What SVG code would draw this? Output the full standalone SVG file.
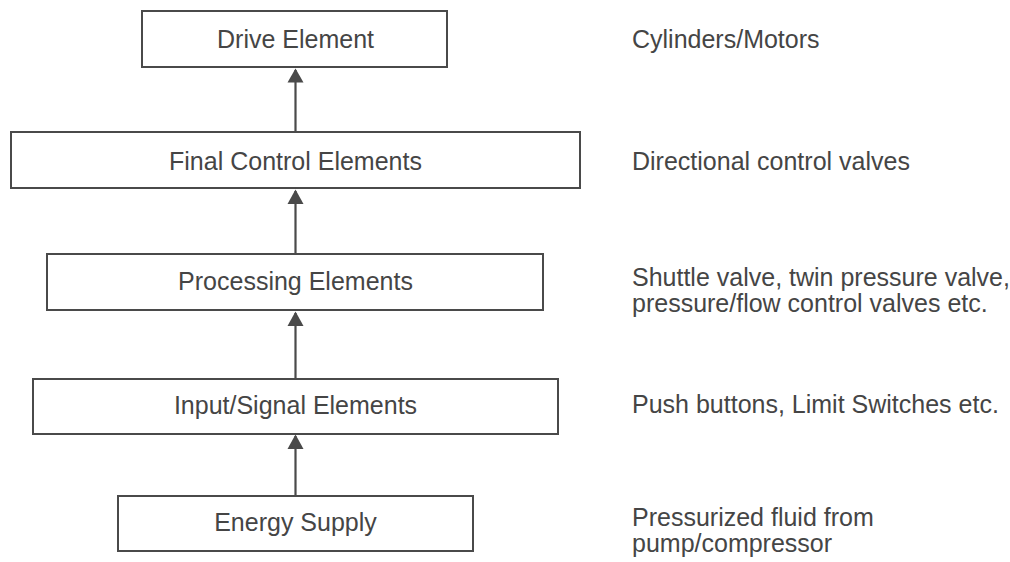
<svg xmlns="http://www.w3.org/2000/svg" width="1010" height="562" viewBox="0 0 1010 562">
  <style>
    .box { fill: #ffffff; stroke: #4a4a4a; stroke-width: 2; }
    .lbl { font-family: "Liberation Sans", Arial, Helvetica, sans-serif; font-size: 25px; fill: #454545; }
    .mid { text-anchor: middle; }
    .conn { stroke: #4a4a4a; stroke-width: 2.2; fill: none; }
    .head { fill: #4a4a4a; }
  </style>
  <rect width="1010" height="562" fill="#ffffff"/>

  <g id="connectors">
    <line class="conn" x1="295.5" y1="132" x2="295.5" y2="70"/>
    <path class="head" d="M287.5,82.5 L295.5,68.5 L303.5,82.5 Z"/>
    <line class="conn" x1="295.5" y1="254" x2="295.5" y2="191"/>
    <path class="head" d="M287.5,204 L295.5,189.5 L303.5,204 Z"/>
    <line class="conn" x1="295.5" y1="379" x2="295.5" y2="313"/>
    <path class="head" d="M287.5,326 L295.5,311.5 L303.5,326 Z"/>
    <line class="conn" x1="295.5" y1="496" x2="295.5" y2="436"/>
    <path class="head" d="M287.5,449 L295.5,434.5 L303.5,449 Z"/>
  </g>

  <g id="drive">
    <rect class="box" x="142" y="11" width="305" height="56"/>
    <text class="lbl mid" x="295.5" y="48">Drive Element</text>
  </g>
  <g id="final">
    <rect class="box" x="11" y="132" width="569" height="56"/>
    <text class="lbl mid" x="295.5" y="170">Final Control Elements</text>
  </g>
  <g id="processing">
    <rect class="box" x="47" y="254" width="496" height="56"/>
    <text class="lbl mid" x="295.5" y="290">Processing Elements</text>
  </g>
  <g id="input">
    <rect class="box" x="33" y="379" width="525" height="55"/>
    <text class="lbl mid" x="295.5" y="414">Input/Signal Elements</text>
  </g>
  <g id="energy">
    <rect class="box" x="118" y="496" width="355" height="55"/>
    <text class="lbl mid" x="295.5" y="531">Energy Supply</text>
  </g>

  <g id="descriptions">
    <text class="lbl" x="632" y="48">Cylinders/Motors</text>
    <text class="lbl" x="632" y="170">Directional control valves</text>
    <text class="lbl" x="632" y="286">Shuttle valve, twin pressure valve,</text>
    <text class="lbl" x="632" y="312">pressure/flow control valves etc.</text>
    <text class="lbl" x="632" y="413">Push buttons, Limit Switches etc.</text>
    <text class="lbl" x="632" y="526">Pressurized fluid from</text>
    <text class="lbl" x="632" y="552">pump/compressor</text>
  </g>
</svg>
